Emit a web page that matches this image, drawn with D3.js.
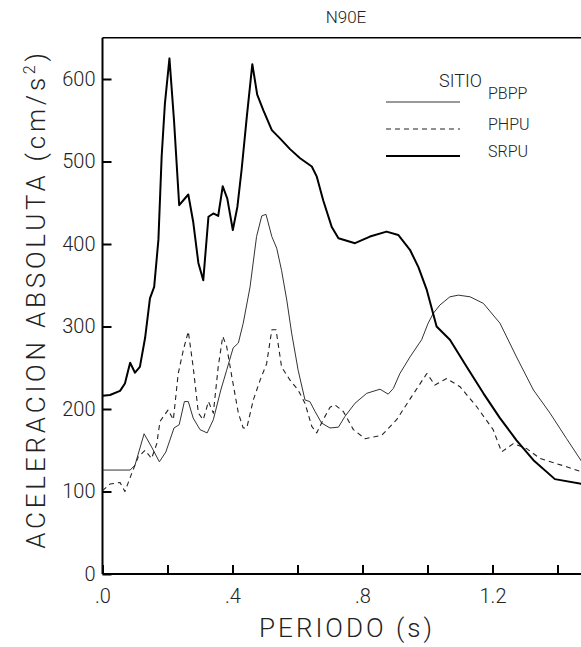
<!DOCTYPE html>
<html>
<head>
<meta charset="utf-8">
<script src="https://cdn.jsdelivr.net/npm/d3@7"></script>
<style>
  html, body { margin: 0; padding: 0; background: #fff; }
  svg { display: block; }
  text { font-family: Roboto, "Liberation Sans", Arial, sans-serif; font-weight: 300; fill: #222; }
</style>
</head>
<body>
<svg id="chart" width="581" height="647"></svg>
<script>
// Response spectra, N90E component: period (s) vs absolute acceleration (cm/s^2)
const xTicks = [0, 0.2, 0.4, 0.6, 0.8, 1.0, 1.2, 1.4];
const xTickLabels = [".0", "", ".4", "", ".8", "", "1.2", ""];
const yTicks = [0, 100, 200, 300, 400, 500, 600];
const seriesNames = ["PBPP", "PHPU", "SRPU"];

const pbppT = [0, 0.085, 0.100, 0.128, 0.151, 0.175, 0.195, 0.220, 0.236, 0.252, 0.264, 0.279, 0.300, 0.322, 0.341, 0.364, 0.382, 0.402, 0.418, 0.433, 0.454, 0.474, 0.490, 0.503, 0.521, 0.536, 0.551, 0.567, 0.582, 0.602, 0.623, 0.638, 0.654, 0.674, 0.700, 0.726, 0.746, 0.777, 0.813, 0.854, 0.879, 0.895, 0.915, 0.946, 0.982, 1.002, 1.018, 1.038, 1.069, 1.095, 1.131, 1.172, 1.223, 1.274, 1.326, 1.377, 1.428, 1.480];
const pbppA = [126, 126, 132, 170, 154, 136, 148, 177, 181, 209, 209, 189, 175, 171, 187, 223, 247, 274, 280, 304, 348, 409, 434, 436, 409, 395, 368, 332, 292, 247, 211, 209, 197, 183, 177, 178, 191, 207, 219, 224, 218, 225, 243, 263, 284, 304, 316, 326, 336, 338, 336, 328, 304, 263, 223, 195, 164, 133];

const phpuT = [0, 0.023, 0.054, 0.069, 0.090, 0.110, 0.131, 0.151, 0.167, 0.177, 0.202, 0.218, 0.233, 0.249, 0.264, 0.279, 0.295, 0.310, 0.326, 0.341, 0.356, 0.370, 0.382, 0.398, 0.418, 0.433, 0.444, 0.464, 0.485, 0.505, 0.521, 0.534, 0.551, 0.577, 0.602, 0.623, 0.644, 0.659, 0.679, 0.700, 0.715, 0.741, 0.772, 0.808, 0.859, 0.905, 0.951, 0.998, 1.023, 1.059, 1.100, 1.151, 1.202, 1.228, 1.264, 1.305, 1.346, 1.428, 1.480];
const phpuA = [101, 109, 111, 100, 122, 142, 150, 140, 158, 185, 199, 187, 243, 272, 294, 251, 195, 187, 209, 195, 251, 288, 276, 239, 195, 177, 177, 211, 235, 255, 296, 296, 251, 235, 223, 207, 179, 171, 187, 202, 205, 197, 175, 164, 168, 187, 215, 243, 229, 237, 227, 203, 175, 148, 158, 152, 140, 130, 123];

const srpuT = [0, 0.023, 0.054, 0.069, 0.085, 0.100, 0.115, 0.131, 0.146, 0.159, 0.172, 0.182, 0.192, 0.206, 0.220, 0.236, 0.264, 0.279, 0.295, 0.310, 0.326, 0.341, 0.356, 0.370, 0.384, 0.401, 0.415, 0.428, 0.444, 0.461, 0.476, 0.495, 0.521, 0.546, 0.577, 0.608, 0.644, 0.659, 0.679, 0.705, 0.726, 0.777, 0.823, 0.874, 0.910, 0.946, 0.972, 0.998, 1.028, 1.069, 1.121, 1.172, 1.223, 1.274, 1.326, 1.392, 1.480];
const srpuA = [216, 217, 222, 231, 256, 244, 251, 286, 334, 348, 405, 506, 570, 625, 550, 447, 460, 427, 377, 356, 433, 437, 434, 470, 455, 417, 445, 490, 554, 618, 581, 562, 538, 528, 515, 504, 494, 482, 453, 421, 407, 401, 409, 415, 411, 393, 372, 344, 300, 284, 251, 219, 189, 162, 138, 115, 109];

const svg = d3.select("#chart");

const x = d3.scaleLinear().domain([0, 1.5]).range([102.5, 590]);
const y = d3.scaleLinear().domain([0, 650]).range([574, 37.75]);

// Frame: top border runs across the plot
svg.append("line")
  .attr("x1", x(0)).attr("x2", x(1.5))
  .attr("y1", y(650)).attr("y2", y(650))
  .attr("stroke", "#000").attr("stroke-width", 1.6);

// Y axis with inward ticks
const yAxis = svg.append("g")
  .attr("transform", `translate(${x(0)},0)`)
  .call(d3.axisLeft(y).tickValues(yTicks).tickSize(-9).tickSizeOuter(0).tickPadding(7).tickFormat(d3.format("d")));
yAxis.select(".domain").attr("stroke", "#000").attr("stroke-width", 2).attr("d", `M0,${y(0)}V${y(650)}`);
yAxis.selectAll(".tick line").attr("stroke", "#000").attr("stroke-width", 2);
yAxis.selectAll(".tick text").attr("font-size", 20).style("font-family", "Roboto, 'Liberation Sans', sans-serif").attr("fill", "#222");

// X axis with inward ticks
const xAxis = svg.append("g")
  .attr("transform", `translate(0,${y(0)})`)
  .call(d3.axisBottom(x).tickValues(xTicks).tickSize(-9).tickSizeOuter(0).tickPadding(15)
    .tickFormat((d, i) => xTickLabels[i]));
xAxis.select(".domain").attr("stroke", "#000").attr("stroke-width", 2).attr("d", `M${x(0)},0H${x(1.5)}`);
xAxis.selectAll(".tick line").attr("stroke", "#000").attr("stroke-width", 2);
xAxis.selectAll(".tick text").attr("font-size", 20).style("font-family", "Roboto, 'Liberation Sans', sans-serif").attr("fill", "#222");

// Curves
const line = d3.line().x(d => x(d[0])).y(d => y(d[1]));
const zip = (t, a) => t.map((v, i) => [v, a[i]]);

svg.append("clipPath").attr("id", "plotclip")
  .append("rect").attr("x", x(0)).attr("y", y(650)).attr("width", x(1.5) - x(0)).attr("height", y(0) - y(650));

const curves = svg.append("g").attr("clip-path", "url(#plotclip)");
const styles = {
  PBPP: { w: 1, dash: null, color: "#333" },
  PHPU: { w: 1.1, dash: "5,4", color: "#222" },
  SRPU: { w: 2, dash: null, color: "#000" }
};
const data = { PBPP: zip(pbppT, pbppA), PHPU: zip(phpuT, phpuA), SRPU: zip(srpuT, srpuA) };

seriesNames.forEach(name => {
  curves.append("path")
    .datum(data[name])
    .attr("fill", "none")
    .attr("stroke", styles[name].color)
    .attr("stroke-width", styles[name].w)
    .attr("stroke-dasharray", styles[name].dash)
    .attr("stroke-linejoin", "round")
    .attr("d", line);
});

// Legend
const legend = svg.append("g");
legend.append("text").attr("x", 439).attr("y", 87).attr("font-size", 18).text("SITIO");
const legendRows = [
  { name: "PBPP", ly: 102, ty: 99 },
  { name: "PHPU", ly: 129, ty: 130 },
  { name: "SRPU", ly: 156, ty: 157 }
];
legendRows.forEach(r => {
  legend.append("line")
    .attr("x1", 386).attr("x2", 460).attr("y1", r.ly).attr("y2", r.ly)
    .attr("stroke", styles[r.name].color)
    .attr("stroke-width", styles[r.name].w)
    .attr("stroke-dasharray", styles[r.name].dash);
  legend.append("text").attr("x", 488).attr("y", r.ty).attr("font-size", 16).text(r.name);
});

// Titles
svg.append("text").attr("x", 346).attr("y", 23).attr("text-anchor", "middle").attr("font-size", 17).text("N90E");

svg.append("text").attr("x", 347).attr("y", 637).attr("text-anchor", "middle")
  .attr("font-size", 26).style("letter-spacing", "3px").text("PERIODO  (s)");

const yTitle = svg.append("text")
  .attr("transform", "translate(45,299) rotate(-90)")
  .attr("text-anchor", "middle")
  .attr("font-size", 26)
  .style("letter-spacing", "3.8px");
yTitle.append("tspan").text("ACELERACION  ABSOLUTA  (cm/s");
yTitle.append("tspan").attr("font-size", 16).attr("dy", -10).text("2");
yTitle.append("tspan").attr("dy", 10).text(")");
</script>
</body>
</html>
